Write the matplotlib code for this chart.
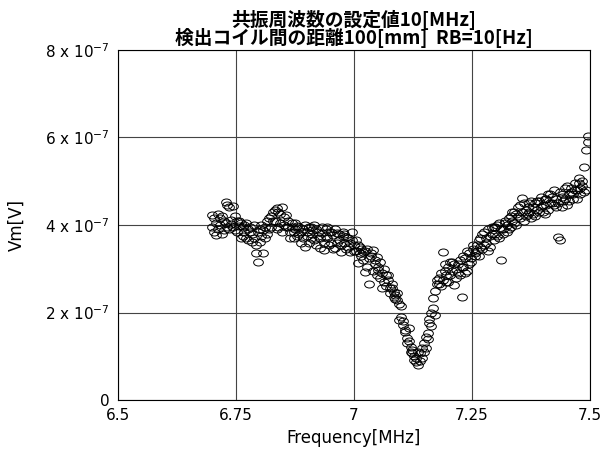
import numpy as np
import matplotlib.pyplot as plt
from matplotlib.path import Path
from matplotlib.transforms import Affine2D

plt.rcParams['font.family'] = ['DejaVu Sans', 'Noto Sans CJK JP']

# 周波数 [MHz]
freq = [
    6.700, 6.704, 6.708, 6.712, 6.716, 6.720, 6.724, 6.728, 6.732, 6.736,
    6.740, 6.744, 6.748, 6.752, 6.756, 6.760, 6.764, 6.768, 6.772, 6.776,
    6.780, 6.784, 6.788, 6.792, 6.796, 6.800, 6.804, 6.808, 6.812, 6.816,
    6.820, 6.824, 6.828, 6.832, 6.836, 6.840, 6.844, 6.848, 6.852, 6.856,
    6.860, 6.864, 6.868, 6.872, 6.876, 6.880, 6.884, 6.888, 6.892, 6.896,
    6.900, 6.904, 6.908, 6.912, 6.916, 6.920, 6.924, 6.928, 6.932, 6.936,
    6.940, 6.944, 6.948, 6.952, 6.956, 6.960, 6.964, 6.968, 6.972, 6.976,
    6.980, 6.984, 6.988, 6.992, 6.996, 7.000, 7.004, 7.008, 7.012, 7.016,
    7.020, 7.024, 7.028, 7.032, 7.036, 7.040, 7.044, 7.048, 7.052, 7.056,
    7.060, 7.064, 7.068, 7.072, 7.076, 7.080, 7.084, 7.088, 7.092, 7.096,
    7.100, 7.104, 7.108, 7.112, 7.116, 7.120, 7.124, 7.128, 7.132, 7.136,
    7.140, 7.144, 7.148, 7.152, 7.156, 7.160, 7.164, 7.168, 7.172, 7.176,
    7.180, 7.184, 7.188, 7.192, 7.196, 7.200, 7.204, 7.208, 7.212, 7.216,
    7.220, 7.224, 7.228, 7.232, 7.236, 7.240, 7.244, 7.248, 7.252, 7.256,
    7.260, 7.264, 7.268, 7.272, 7.276, 7.280, 7.284, 7.288, 7.292, 7.296,
    7.300, 7.304, 7.308, 7.312, 7.316, 7.320, 7.324, 7.328, 7.332, 7.336,
    7.340, 7.344, 7.348, 7.352, 7.356, 7.360, 7.364, 7.368, 7.372, 7.376,
    7.380, 7.384, 7.388, 7.392, 7.396, 7.400, 7.404, 7.408, 7.412, 7.416,
    7.420, 7.424, 7.428, 7.432, 7.436, 7.440, 7.444, 7.448, 7.452, 7.456,
    7.460, 7.464, 7.468, 7.472, 7.476, 7.480, 7.484, 7.488, 7.492, 7.496,
]

# Vm [x1e-7 V] 1回目の掃引
vm_a = [
    4.23, 3.84, 4.05, 3.92, 4.15, 3.80, 4.10, 4.52, 3.95, 4.40,
    4.02, 4.43, 3.88, 4.10, 3.98, 4.05, 3.75, 4.00, 3.70, 3.92,
    3.85, 3.62, 4.00, 3.35, 3.15, 3.90, 3.75, 3.36, 3.95, 3.80,
    3.90, 4.20, 4.30, 4.10, 4.39, 3.95, 4.25, 4.42, 4.00, 4.23,
    3.95, 3.85, 4.05, 3.70, 3.90, 3.98, 3.80, 3.60, 3.92, 3.50,
    3.85, 3.95, 3.70, 3.88, 3.65, 3.90, 3.75, 3.47, 3.82, 3.43,
    3.90, 3.70, 3.85, 3.60, 3.78, 3.47, 3.82, 3.65, 3.38, 3.75,
    3.60, 3.72, 3.50, 3.38, 3.65, 3.55, 3.40, 3.13, 3.50, 3.30,
    3.38, 2.93, 3.45, 2.65, 3.30, 3.43, 3.10, 3.27, 2.97, 3.15,
    2.56, 3.00, 2.86, 2.75, 2.56, 2.65, 2.47, 2.40, 2.29, 1.83,
    2.15, 1.71, 1.55, 1.42, 1.65, 1.21, 1.07, 0.91, 0.87, 0.80,
    1.07, 0.95, 1.30, 1.20, 1.53, 1.76, 2.00, 2.33, 1.94, 2.65,
    2.80, 2.60, 3.38, 2.95, 2.70, 3.05, 2.85, 3.15, 2.62, 3.00,
    2.90, 3.20, 2.36, 3.05, 3.25, 2.95, 3.36, 3.15, 3.45, 3.30,
    3.55, 3.30, 3.70, 3.45, 3.85, 3.60, 3.40, 3.75, 3.95, 3.65,
    3.80, 4.00, 3.70, 3.20, 3.90, 4.05, 3.85, 4.15, 3.95, 4.10,
    4.30, 4.00, 4.20, 4.45, 4.62, 4.10, 4.35, 4.25, 4.50, 4.15,
    4.40, 4.20, 4.55, 4.30, 4.65, 4.45, 4.25, 4.60, 4.35, 4.70,
    4.50, 4.80, 4.40, 3.73, 3.66, 4.65, 4.55, 4.85, 4.45, 4.70,
    4.75, 4.60, 4.95, 4.80, 5.07, 4.70, 4.90, 5.33, 5.71, 6.03,
]

# Vm [x1e-7 V] 2回目の掃引
vm_b = [
    3.95, 4.15, 3.78, 4.25, 4.00, 4.20, 3.88, 4.05, 4.45, 3.90,
    4.12, 3.95, 4.20, 3.85, 4.08, 3.70, 3.95, 3.85, 4.05, 3.65,
    3.95, 3.80, 3.70, 3.55, 3.85, 3.62, 4.00, 3.88, 3.70, 4.10,
    4.15, 3.95, 4.10, 4.35, 3.90, 4.30, 4.05, 3.85, 4.18, 3.95,
    4.10, 3.70, 3.95, 3.85, 4.05, 3.75, 3.95, 3.85, 3.70, 4.00,
    3.75, 3.60, 3.95, 3.80, 4.00, 3.55, 3.85, 3.70, 3.95, 3.60,
    3.75, 3.95, 3.55, 3.85, 3.45, 3.90, 3.60, 3.80, 3.55, 3.85,
    3.80, 3.45, 3.70, 3.60, 3.85, 3.40, 3.65, 3.55, 3.35, 3.45,
    3.20, 3.40, 3.05, 3.25, 3.35, 2.95, 3.20, 2.85, 3.05, 2.80,
    2.90, 2.70, 2.60, 2.85, 2.45, 2.55, 2.35, 2.30, 2.45, 2.20,
    1.90, 1.80, 1.60, 1.30, 1.35, 1.10, 1.15, 1.00, 0.95, 1.10,
    0.90, 1.20, 1.10, 1.45, 1.40, 1.85, 1.70, 2.10, 2.50, 2.75,
    2.65, 2.90, 2.75, 3.10, 2.85, 2.70, 3.15, 2.95, 3.10, 2.80,
    3.10, 2.85, 3.05, 3.30, 2.90, 3.40, 3.10, 3.25, 3.55, 3.35,
    3.40, 3.65, 3.50, 3.80, 3.55, 3.70, 3.90, 3.50, 3.80, 3.95,
    3.95, 3.75, 4.05, 3.90, 3.80, 4.10, 4.00, 3.90, 4.20, 4.30,
    4.05, 4.25, 4.40, 4.15, 4.30, 4.50, 4.20, 4.40, 4.30, 4.55,
    4.25, 4.50, 4.35, 4.55, 4.40, 4.30, 4.60, 4.45, 4.70, 4.50,
    4.65, 4.45, 4.60, 4.50, 4.75, 4.40, 4.70, 4.60, 4.90, 4.55,
    4.85, 4.70, 4.80, 4.60, 4.95, 4.85, 5.00, 4.75, 4.80, 5.90,
]

x_ticks = [6.5, 6.75, 7.0, 7.25, 7.5]
x_labels = ['6.5', '6.75', '7', '7.25', '7.5']
y_ticks = [0, 2e-7, 4e-7, 6e-7, 8e-7]
y_labels = ['0', '2 x 10$^{-7}$', '4 x 10$^{-7}$', '6 x 10$^{-7}$', '8 x 10$^{-7}$']

# 横長の楕円マーカー
circ = Path.unit_circle()
ellipse = Path(Affine2D().scale(1.0, 0.72).transform(circ.vertices), circ.codes)

fig = plt.figure(figsize=(6.05, 4.5), dpi=100)
ax = fig.add_axes([0.195, 0.111, 0.78, 0.778])

for vm in (vm_a, vm_b):
    ax.plot(freq, np.array(vm) * 1e-7, linestyle='none', marker=ellipse,
            markersize=7, markerfacecolor='none', markeredgecolor='black',
            markeredgewidth=0.7)

ax.set_xlim(6.5, 7.5)
ax.set_ylim(0, 8e-7)
ax.set_xticks(x_ticks)
ax.set_xticklabels(x_labels, fontsize=11)
ax.set_yticks(y_ticks)
ax.set_yticklabels(y_labels, fontsize=11)
ax.tick_params(length=0, pad=6)
ax.grid(True, color='#444444', linewidth=0.8)
ax.set_axisbelow(True)
for s in ax.spines.values():
    s.set_linewidth(0.8)

ax.set_xlabel('Frequency[MHz]', fontsize=12, labelpad=4)
ax.set_ylabel('Vm[V]', fontsize=12, labelpad=14)

ax.set_title('共振周波数の設定値10[MHz]\n検出コイル間の距離100[mm]  RB=10[Hz]',
             fontsize=13.5, fontweight='bold', linespacing=0.92, pad=4,
             family=['Noto Sans CJK JP', 'DejaVu Sans'])

fig.savefig('out.png', dpi=100)
